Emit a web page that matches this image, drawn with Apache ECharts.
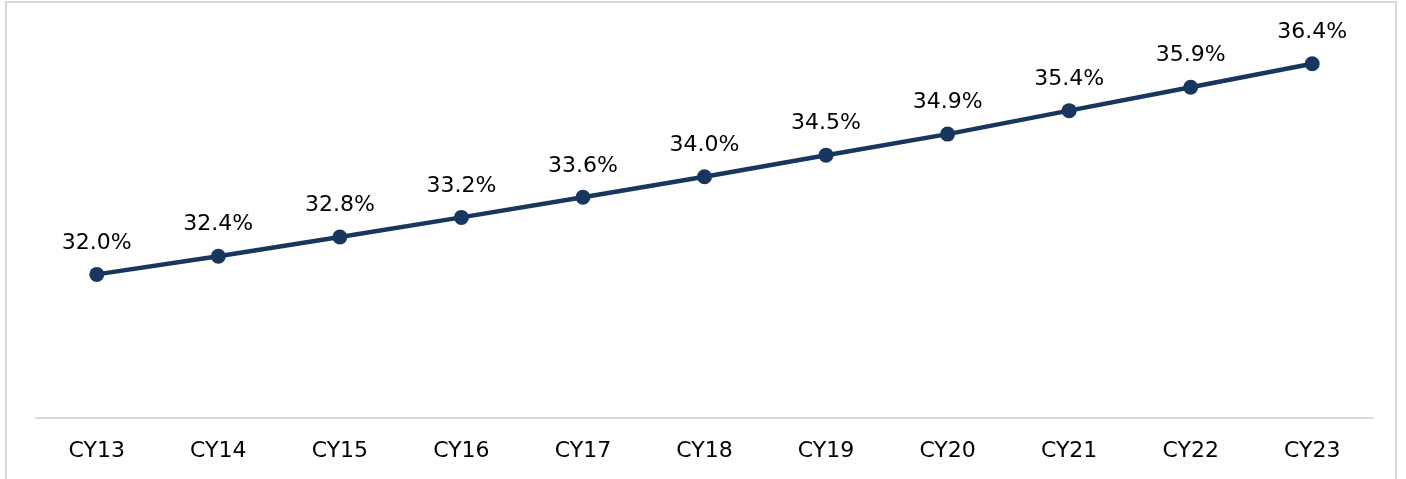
<!DOCTYPE html>
<html>
<head>
<meta charset="utf-8">
<script src="https://cdn.jsdelivr.net/npm/echarts@6/dist/echarts.min.js"></script>
<style>
  html, body { margin: 0; padding: 0; background: #fff; }
  #frame { position: absolute; left: 5px; top: 1px; width: 1392px; height: 490px; border: 2px solid #d9d9d9; box-sizing: border-box; }
  #chart { width: 1406px; height: 479px; position: absolute; left: 0; top: 0; }
</style>
</head>
<body>
<div id="frame"></div>
<div id="chart"></div>
<script>
var categories = ['CY13', 'CY14', 'CY15', 'CY16', 'CY17', 'CY18', 'CY19', 'CY20', 'CY21', 'CY22', 'CY23'];
var shareValues = [32.0, 32.38, 32.78, 33.19, 33.61, 34.04, 34.49, 34.93, 35.42, 35.91, 36.4];

var chart = echarts.init(document.getElementById('chart'), null, { renderer: 'canvas' });

var option = {
  animation: false,
  grid: {
    top: 35,
    left: 36,
    right: 33,
    bottom: 61
  },
  xAxis: {
    type: 'category',
    boundaryGap: true,
    data: categories,
    axisLine: { lineStyle: { color: '#d9d9d9', width: 2 } },
    axisTick: { show: false },
    axisLabel: {
      color: '#000',
      fontSize: 22,
      fontFamily: 'DejaVu Sans',
      margin: 22
    }
  },
  yAxis: {
    type: 'value',
    show: false,
    min: 29,
    max: 37
  },
  series: [
    {
      type: 'line',
      data: shareValues,
      symbol: 'circle',
      symbolSize: 15,
      lineStyle: { color: '#17375e', width: 4.5 },
      itemStyle: { color: '#17375e' },
      label: {
        show: true,
        position: 'top',
        distance: 13,
        color: '#000',
        fontSize: 22,
        fontFamily: 'DejaVu Sans',
        formatter: function (p) { return p.value.toFixed(1) + '%'; }
      }
    }
  ]
};

chart.setOption(option);
</script>
</body>
</html>
